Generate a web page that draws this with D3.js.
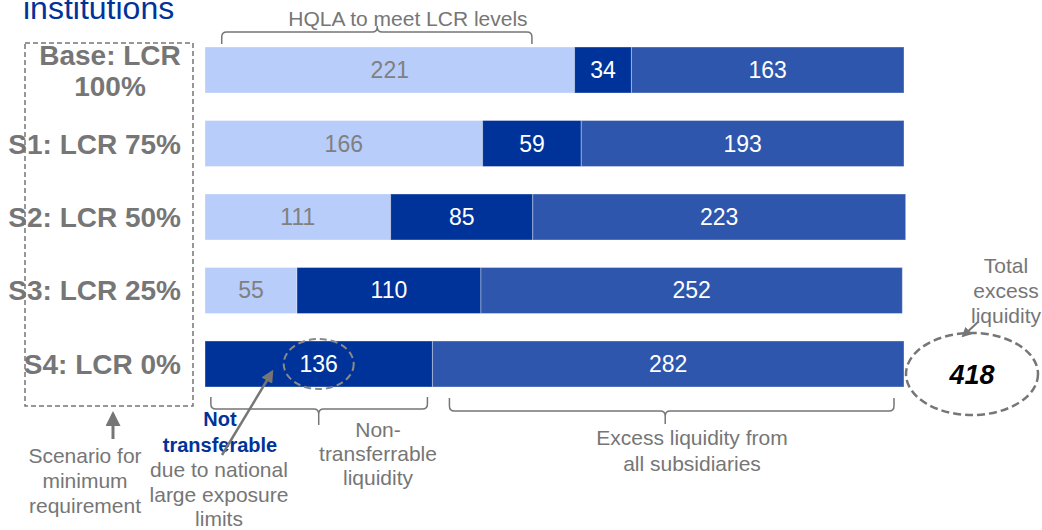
<!DOCTYPE html>
<html>
<head>
<meta charset="utf-8">
<script src="https://cdn.jsdelivr.net/npm/d3@7"></script>
<style>
  html, body { margin: 0; padding: 0; background: #fff; }
  svg text { font-family: "Liberation Sans", Arial, sans-serif; }
</style>
</head>
<body>
<svg id="chart" width="1042" height="530"></svg>
<script>
// scenarios, top to bottom
var categories = ["Base: LCR 100%", "S1: LCR 75%", "S2: LCR 50%", "S3: LCR 25%", "S4: LCR 0%"];
var labelLines = [["Base: LCR", "100%"], ["S1: LCR 75%"], ["S2: LCR 50%"], ["S3: LCR 25%"], ["S4: LCR 0%"]];
// HQLA to meet LCR levels
var hqla = [221, 166, 111, 55, 0];
// non-transferrable liquidity
var nonTransfer = [34, 59, 85, 110, 136];
// excess liquidity from all subsidiaries
var excess = [163, 193, 223, 252, 282];
var totalExcess = 418;

var seriesKeys = ["hqla", "nonTransfer", "excess"];
var colors = { hqla: "#b8cdfa", nonTransfer: "#003399", excess: "#2e56ad" };
var labelColors = { hqla: "#808080", nonTransfer: "#fff", excess: "#fff" };
var grey = "#767676";

var rows = categories.map(function (c, i) {
  return { cat: c, hqla: hqla[i], nonTransfer: nonTransfer[i], excess: excess[i] };
});

var svg = d3.select("#chart");

var x = d3.scaleLinear().domain([0, totalExcess]).range([205, 904]);
var y = d3.scaleBand().domain(categories).range([47, 387]).paddingInner(0.374).paddingOuter(0);

var stack = d3.stack().keys(seriesKeys)(rows);

var layers = svg.selectAll("g.layer")
  .data(stack)
  .enter().append("g")
  .attr("class", "layer");

layers.selectAll("rect")
  .data(function (d) { return d.map(function (p) { return { key: d.key, p: p }; }); })
  .enter().append("rect")
  .filter(function (d) { return d.p[1] > d.p[0]; })
  .attr("x", function (d) { return x(d.p[0]); })
  .attr("y", function (d) { return y(d.p.data.cat); })
  .attr("width", function (d) { return x(d.p[1]) - x(d.p[0]); })
  .attr("height", y.bandwidth())
  .style("fill", function (d) { return colors[d.key]; })
  .style("stroke", "rgba(255,255,255,0.35)")
  .style("stroke-width", "1px");

layers.selectAll("text")
  .data(function (d) { return d.map(function (p) { return { key: d.key, p: p }; }); })
  .enter().append("text")
  .filter(function (d) { return d.p[1] > d.p[0]; })
  .attr("x", function (d) { return (x(d.p[0]) + x(d.p[1])) / 2; })
  .attr("y", function (d) { return y(d.p.data.cat) + y.bandwidth() / 2 + 8; })
  .attr("text-anchor", "middle")
  .style("font-size", "23px")
  .style("fill", function (d) { return labelColors[d.key]; })
  .text(function (d) { return d.p[1] - d.p[0]; });

// category labels
categories.forEach(function (c, i) {
  var lines = labelLines[i];
  var cy = y(c) + y.bandwidth() / 2;
  var t = svg.append("text")
    .attr("text-anchor", lines.length > 1 ? "middle" : "end")
    .style("font-size", "28px")
    .style("font-weight", "bold")
    .style("fill", grey);
  lines.forEach(function (l, j) {
    t.append("tspan")
      .attr("x", lines.length > 1 ? 110 : 181)
      .attr("y", cy + 10 + (j - (lines.length - 1) / 2) * 31)
      .text(l);
  });
});

// scenario box
svg.append("rect")
  .attr("x", 25).attr("y", 43).attr("width", 168).attr("height", 363)
  .style("fill", "none").style("stroke", grey).style("stroke-width", "1.5px")
  .style("stroke-dasharray", "5,3");

// title fragment
svg.append("text")
  .attr("x", 23).attr("y", 19)
  .style("font-size", "32px").style("fill", "#003399")
  .text("institutions");

// braces
function brace(x0, x1, yEnd, yMid, xTip, yTip, r) {
  var s = yTip > yMid ? 1 : -1;
  var e = yEnd > yMid ? 1 : -1;
  return "M" + x0 + "," + yEnd +
    " L" + x0 + "," + (yMid + e * r) +
    " Q" + x0 + "," + yMid + " " + (x0 + r) + "," + yMid +
    " L" + (xTip - r) + "," + yMid +
    " Q" + xTip + "," + yMid + " " + xTip + "," + (yMid + s * r) +
    " L" + xTip + "," + yTip +
    " M" + xTip + "," + (yMid + s * r) +
    " Q" + xTip + "," + yMid + " " + (xTip + r) + "," + yMid +
    " L" + (x1 - r) + "," + yMid +
    " Q" + x1 + "," + yMid + " " + x1 + "," + (yMid + e * r) +
    " L" + x1 + "," + yEnd;
}
function drawBrace(d) {
  svg.append("path").attr("d", d)
    .style("fill", "none").style("stroke", grey).style("stroke-width", "1.5px");
}
var s4 = categories[4];
drawBrace(brace(x(10), x(195.5), 44, 32, x(103), 26, 5));
drawBrace(brace(x(3.5), x(nonTransfer[4]) - 5, 397, 409, x(nonTransfer[4] / 2), 425, 5));
drawBrace(brace(x(nonTransfer[4]) + 17, x(totalExcess) - 10, 398, 411, x(nonTransfer[4] + excess[4] / 2) - 3, 424, 5));

function multiText(lines, cx, y0, dy, opts) {
  var t = svg.append("text")
    .attr("text-anchor", "middle")
    .style("font-size", (opts && opts.size) || "21px")
    .style("fill", (opts && opts.fill) || grey)
    .style("font-weight", (opts && opts.weight) || "normal")
    .style("font-style", (opts && opts.style) || "normal");
  lines.forEach(function (l, j) {
    t.append("tspan").attr("x", cx).attr("y", y0 + j * dy).text(l);
  });
  return t;
}

multiText(["HQLA to meet LCR levels"], 408, 26, 0, {});
multiText(["Scenario for", "minimum", "requirement"], 85, 463, 25, {});
multiText(["Not", "transferable"], 220, 426, 26, { size: "20px", weight: "bold", fill: "#003399" });
multiText(["due to national", "large exposure", "limits"], 219, 477, 24.5, {});
multiText(["Non-", "transferrable", "liquidity"], 378, 437, 24, {});
multiText(["Excess liquidity from", "all subsidiaries"], 692, 445, 26, {});
multiText(["Total", "excess", "liquidity"], 1006, 273, 25, {});

// arrowheads
var defs = svg.append("defs");
defs.append("marker")
  .attr("id", "arr").attr("viewBox", "0 0 10 10")
  .attr("refX", 8).attr("refY", 5)
  .attr("markerWidth", 5).attr("markerHeight", 5)
  .attr("orient", "auto")
  .append("path").attr("d", "M0,0 L10,5 L0,10 Z").style("fill", grey);

// scenario arrow
svg.append("line")
  .attr("x1", 113).attr("y1", 439).attr("x2", 113).attr("y2", 414)
  .style("stroke", grey).style("stroke-width", "3px").attr("marker-end", "url(#arr)");

// not transferable arrow
svg.append("line")
  .attr("x1", 222).attr("y1", 455).attr("x2", 272).attr("y2", 372)
  .style("stroke", grey).style("stroke-width", "2.5px").attr("marker-end", "url(#arr)");

// ellipse around 136
svg.append("ellipse")
  .attr("cx", x(nonTransfer[4] / 2)).attr("cy", y(s4) + y.bandwidth() / 2)
  .attr("rx", 35).attr("ry", 25)
  .style("fill", "none").style("stroke", "#8a8a8a").style("stroke-width", "2px")
  .style("stroke-dasharray", "7,4");

// total ellipse
var tcx = 972, tcy = y(s4) + y.bandwidth() / 2 + 10;
svg.append("ellipse")
  .attr("cx", tcx).attr("cy", tcy).attr("rx", 66).attr("ry", 41)
  .style("fill", "#fff").style("stroke", grey).style("stroke-width", "2.5px")
  .style("stroke-dasharray", "8,4");
svg.append("text")
  .attr("x", tcx).attr("y", tcy + 10)
  .attr("text-anchor", "middle")
  .style("font-size", "27px").style("font-weight", "bold").style("font-style", "italic")
  .style("fill", "#000")
  .text(totalExcess);
svg.append("line")
  .attr("x1", 978).attr("y1", 322).attr("x2", 963).attr("y2", 336)
  .style("stroke", grey).style("stroke-width", "2px").attr("marker-end", "url(#arr)");
</script>
</body>
</html>
